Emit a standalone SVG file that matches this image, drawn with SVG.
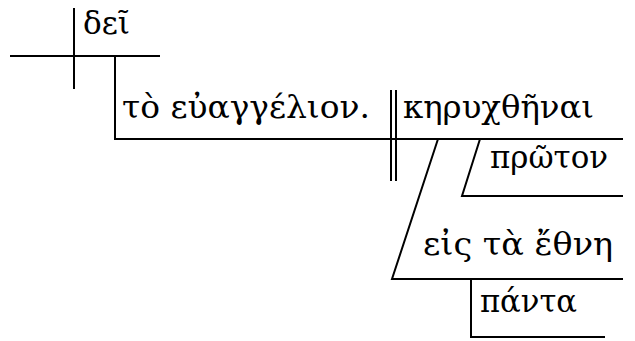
<svg xmlns="http://www.w3.org/2000/svg" width="635" height="341" viewBox="0 0 635 341">
<style>
.l{stroke:#000;stroke-width:2;fill:none}
text{font-family:"DejaVu Serif","Noto Sans",serif;font-size:32px;fill:#000}
</style>
<rect width="635" height="341" fill="#fff"/>
<g id="connectors">
<path class="l" d="M10 56H160M74 8V89"/>
<path class="l" d="M115 56V139H623"/>
<path class="l" d="M391 90V181M396 90V181"/>
<path class="l" d="M438 139L392 279H623"/>
<path class="l" d="M480 139L462 196H623"/>
<path class="l" d="M471 279V337H605"/>
</g>
<g id="dei"><text x="83" y="34" textLength="47" lengthAdjust="spacingAndGlyphs">δεῖ</text></g>
<g id="euangelion"><text x="122" y="118" textLength="248" lengthAdjust="spacingAndGlyphs">τὸ εὐαγγέλιον.</text></g>
<g id="keruchthenai"><text x="403" y="118" textLength="191" lengthAdjust="spacingAndGlyphs">κηρυχθῆναι</text></g>
<g id="proton"><text x="490" y="168" textLength="118" lengthAdjust="spacingAndGlyphs">πρῶτον</text></g>
<g id="eis"><text x="423" y="255" textLength="190" lengthAdjust="spacingAndGlyphs">εἰς τὰ ἔθνη</text></g>
<g id="panta"><text x="480" y="312" textLength="97" lengthAdjust="spacingAndGlyphs">πάντα</text></g>
</svg>
